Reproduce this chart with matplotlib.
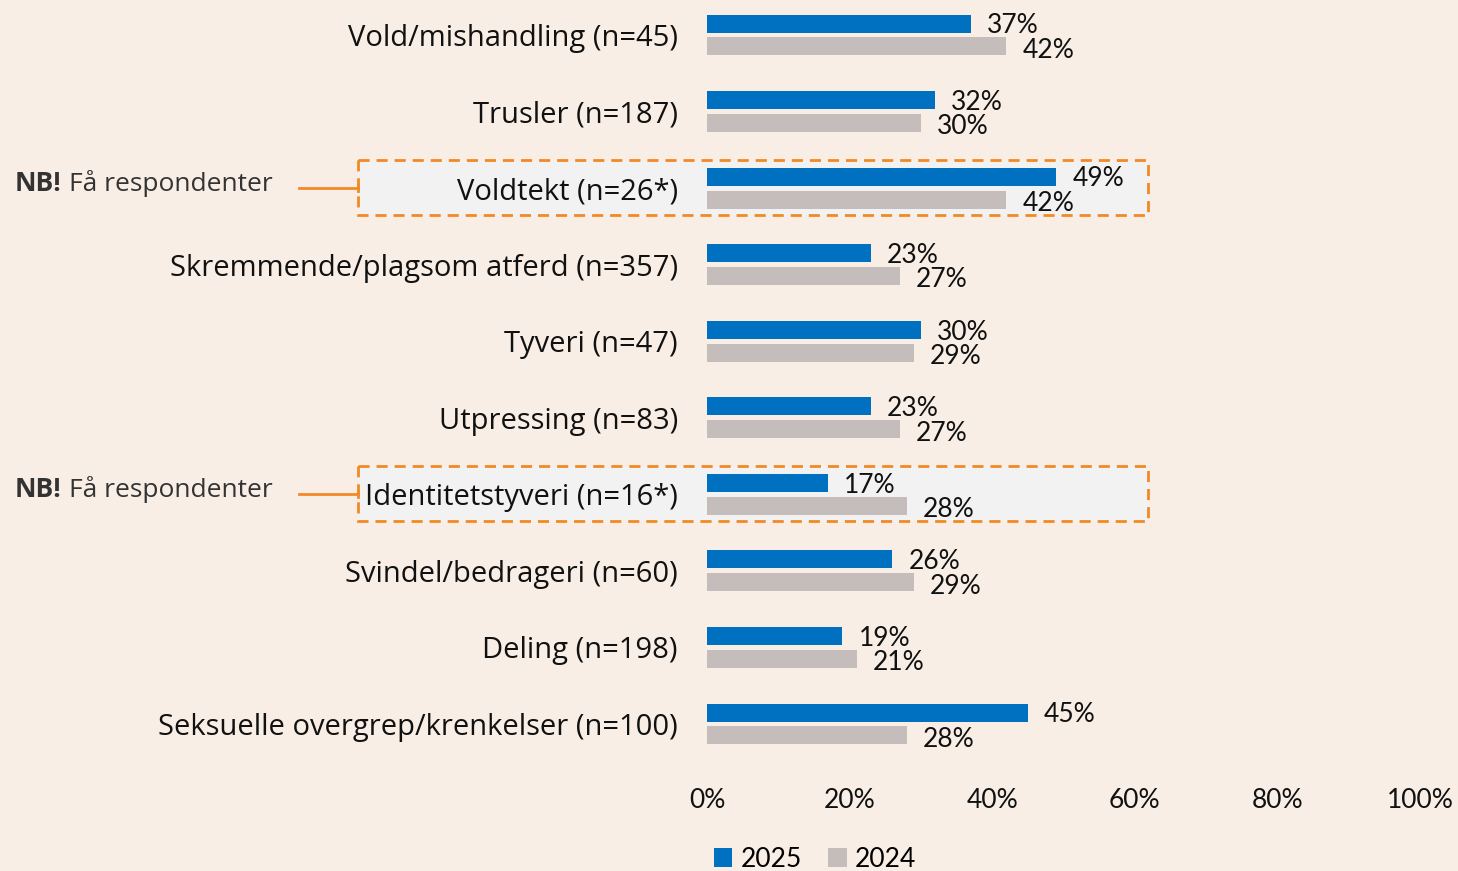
import matplotlib
matplotlib.use("Agg")
import matplotlib.pyplot as plt
from matplotlib.patches import Rectangle, Patch
import numpy as np

plt.rcParams['font.family'] = ['Lato', 'DejaVu Sans']

categories = [
    "Vold/mishandling (n=45)",
    "Trusler (n=187)",
    "Voldtekt (n=26*)",
    "Skremmende/plagsom atferd (n=357)",
    "Tyveri (n=47)",
    "Utpressing (n=83)",
    "Identitetstyveri (n=16*)",
    "Svindel/bedrageri (n=60)",
    "Deling (n=198)",
    "Seksuelle overgrep/krenkelser (n=100)",
]
values_2025 = [37, 32, 49, 23, 30, 23, 17, 26, 19, 45]
values_2024 = [42, 30, 42, 27, 29, 27, 28, 29, 21, 28]
xticks = [0, 20, 40, 60, 80, 100]
xticklabels = ["0%", "20%", "40%", "60%", "80%", "100%"]
flagged = ["Voldtekt (n=26*)", "Identitetstyveri (n=16*)"]
note_bold = "NB!"
note_text = "Få respondenter"

BG = "#F8EEE5"
BLUE = "#0070C0"
GREY = "#C5BCBC"
ORANGE = "#F28A24"
BOXFILL = "#F2F2F2"
CAT_FONT = ['Open Sans', 'DejaVu Sans']

W, H = 1458, 871
fig = plt.figure(figsize=(W / 100, H / 100), dpi=100, facecolor=BG)

left_px, right_px = 707, 1420
top_px, bottom_px = 0, 762
ax = fig.add_axes([left_px / W, 1 - bottom_px / H, (right_px - left_px) / W, (bottom_px - top_px) / H])
ax.set_facecolor("none")
unit = (724 - 35) / 9
ax.set_ylim((bottom_px - 35) / unit, (top_px - 35) / unit)
ax.set_xlim(0, 100)

y = np.arange(len(categories))
bh = 0.235
off = 0.15
ax.barh(y - off, values_2025, height=bh, color=BLUE, zorder=2, label="2025")
ax.barh(y + off, values_2024, height=bh, color=GREY, zorder=2, label="2024")

pxx = 100 / (right_px - left_px)
for i, (a, b) in enumerate(zip(values_2025, values_2024)):
    ax.text(a + 16 * pxx, i - off + 0.03, f"{a}%", va="center", ha="left", fontsize=19, color="#111111", zorder=4)
    ax.text(b + 16 * pxx, i + off + 0.05, f"{b}%", va="center", ha="left", fontsize=19, color="#111111", zorder=4)

ax.set_yticks(y)
ax.set_yticklabels(categories, fontsize=21, color="#111111", family=CAT_FONT)
ax.tick_params(axis="y", length=0, pad=21)
ax.set_xticks(xticks)
ax.set_xticklabels(xticklabels, fontsize=19, color="#111111")
ax.tick_params(axis="x", length=0, pad=19)
for s in ax.spines.values():
    s.set_visible(False)

box_x0 = (358 - left_px) * pxx
box_x1 = (1148 - left_px) * pxx
line_x0 = (299 - left_px) * pxx
box_h = 55 / unit
for name in flagged:
    i = categories.index(name)
    rect = Rectangle((box_x0, i - box_h / 2 - 0.01), box_x1 - box_x0, box_h,
                     facecolor=BOXFILL, edgecolor=ORANGE, linewidth=2,
                     linestyle=(0, (4, 2.5)), clip_on=False, zorder=0.5)
    ax.add_patch(rect)
    ax.plot([line_x0, box_x0], [i, i], color=ORANGE, lw=2, clip_on=False, zorder=1)
    ax.plot([box_x0, box_x0], [i - 0.04, i + 0.04], color=ORANGE, lw=2, clip_on=False, zorder=1)
    t = ax.text((15 - left_px) * pxx, i - 0.06, note_bold, fontsize=19, fontweight="bold",
                color="#333333", ha="left", va="center", clip_on=False, family=CAT_FONT)
    fig.canvas.draw()
    bb = t.get_window_extent()
    x_after = ax.transData.inverted().transform((bb.x1 + 7, 0))[0]
    ax.text(x_after, i - 0.06, note_text, fontsize=19, color="#333333",
            ha="left", va="center", clip_on=False, family=CAT_FONT)

handles = [Patch(facecolor=BLUE, label="2025"), Patch(facecolor=GREY, label="2024")]
fig.legend(handles=handles, loc="center left", bbox_to_anchor=(714 / W, 1 - 859 / H),
           ncol=2, frameon=False, fontsize=19, handlelength=0.7, handleheight=0.7,
           handletextpad=0.3, columnspacing=1.0, borderpad=0, borderaxespad=0)

fig.savefig("out.png", dpi=100, facecolor=BG)
